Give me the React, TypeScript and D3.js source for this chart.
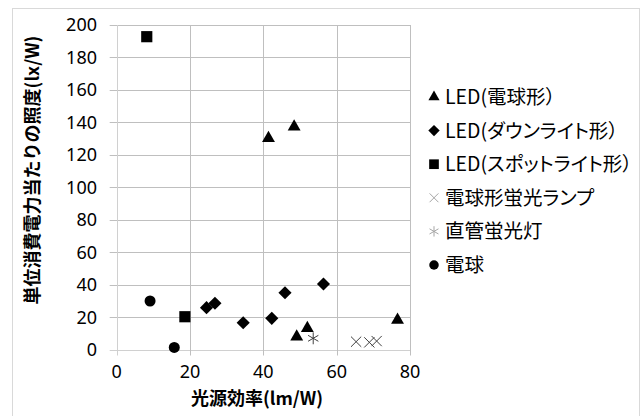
import React from "react";
import * as d3 from "d3";

// Luminous efficacy (lm/W) and illuminance per watt (lx/W) for each lamp type
const ledBulbX = [41.4, 48.4, 49.1, 52.0, 76.6];
const ledBulbY = [130.2, 137.3, 7.9, 13.1, 18.2];

const ledDownX = [24.5, 26.8, 34.5, 42.3, 45.9, 56.4];
const ledDownY = [25.8, 28.5, 16.5, 19.2, 35.0, 40.4];

const ledSpotX = [8.2, 18.6];
const ledSpotY = [192.8, 20.2];

const cflX = [65.3, 68.9, 70.9];
const cflY = [4.8, 4.4, 5.2];

const tubeX = [53.6];
const tubeY = [6.9];

const bulbX = [9.1, 15.7];
const bulbY = [29.9, 1.3];

const seriesNames = [
  "LED(電球形）",
  "LED(ダウンライト形）",
  "LED(スポットライト形）",
  "電球形蛍光ランプ",
  "直管蛍光灯",
  "電球",
];

const xTicks = [0, 20, 40, 60, 80];
const yTicks = [0, 20, 40, 60, 80, 100, 120, 140, 160, 180, 200];

const xTitle = "光源効率(lm/W)";
const yTitle = "単位消費電力当たりの照度(lx/W)";

type Marker = {
  type: d3.SymbolType;
  size: number;
  filled: boolean;
  legendColor: string;
  plotColor: string;
};

const markers: Marker[] = [
  { type: d3.symbolTriangle, size: 72, filled: true, legendColor: "#000", plotColor: "#000" },
  { type: d3.symbolDiamond2, size: 110, filled: true, legendColor: "#000", plotColor: "#000" },
  { type: d3.symbolSquare, size: 125, filled: true, legendColor: "#000", plotColor: "#000" },
  { type: d3.symbolTimes, size: 70, filled: false, legendColor: "#a6a6a6", plotColor: "#404040" },
  { type: d3.symbolAsterisk, size: 100, filled: false, legendColor: "#a6a6a6", plotColor: "#404040" },
  { type: d3.symbolCircle, size: 95, filled: true, legendColor: "#000", plotColor: "#000" },
];

const seriesData: [number[], number[]][] = [
  [ledBulbX, ledBulbY],
  [ledDownX, ledDownY],
  [ledSpotX, ledSpotY],
  [cflX, cflY],
  [tubeX, tubeY],
  [bulbX, bulbY],
];

const W = 644;
const H = 416;
const plotLeft = 116.7;
const plotRight = 410;
const plotTop = 25;
const plotBottom = 349.5;

const numFont = "'Noto Sans', 'Noto Sans CJK JP', sans-serif";
const cjkFont = "'Noto Sans CJK JP', 'Noto Sans', sans-serif";

export default function App() {
  const x = d3.scaleLinear().domain([0, 80]).range([plotLeft, plotRight]);
  const y = d3.scaleLinear().domain([0, 200]).range([plotBottom, plotTop]);

  const symbolPath = (m: Marker, scale = 1) =>
    d3.symbol().type(m.type).size(m.size * scale)() || "";

  const legendX = 434;
  const legendY0 = 97;
  const legendStep = 33.6;

  return (
    <svg
      width={W}
      height={H}
      style={{ position: "absolute", left: 0, top: 0, display: "block" }}
    >
      <rect x={0} y={0} width={W} height={H} fill="#fff" />
      <rect x={12.5} y={8.5} width={627} height={420} fill="#fff" stroke="#d9d9d9" strokeWidth={1} />

      {/* gridlines */}
      {yTicks.map((t) => (
        <line
          key={`gy${t}`}
          x1={plotLeft - 7}
          x2={plotRight}
          y1={Math.round(y(t)) + 0.5}
          y2={Math.round(y(t)) + 0.5}
          stroke={t === 0 ? "#d0d0d0" : "#bfbfbf"}
          strokeWidth={1}
        />
      ))}
      {xTicks.map((t) => (
        <line
          key={`gx${t}`}
          x1={Math.round(x(t)) + 0.5}
          x2={Math.round(x(t)) + 0.5}
          y1={plotTop}
          y2={plotBottom + 6}
          stroke={t === 0 ? "#d0d0d0" : "#bfbfbf"}
          strokeWidth={1}
        />
      ))}

      {/* tick labels */}
      {yTicks.map((t) => (
        <text
          key={`ly${t}`}
          x={97}
          y={y(t)}
          dy="0.36em"
          textAnchor="end"
          fontFamily={numFont}
          fontSize={18}
          fill="#000"
        >
          {t}
        </text>
      ))}
      {xTicks.map((t) => (
        <text
          key={`lx${t}`}
          x={x(t)}
          y={372}
          dy="0.36em"
          textAnchor="middle"
          fontFamily={numFont}
          fontSize={18}
          fill="#000"
        >
          {t}
        </text>
      ))}

      {/* axis titles */}
      <text
        x={257}
        y={399}
        dy="0.36em"
        textAnchor="middle"
        fontFamily={cjkFont}
        fontWeight="bold"
        fontSize={18}
        fill="#000"
      >
        {xTitle}
      </text>
      <text
        transform={`translate(33,170) rotate(-90)`}
        dy="0.36em"
        textAnchor="middle"
        fontFamily={cjkFont}
        fontWeight="bold"
        fontSize={18}
        fill="#000"
      >
        {yTitle}
      </text>

      {/* data points */}
      {seriesData.map(([xs, ys], si) => {
        const m = markers[si];
        const d = symbolPath(m);
        return (
          <g key={`s${si}`}>
            {xs.map((xv, i) => (
              <path
                key={i}
                d={d}
                transform={`translate(${x(xv)},${y(ys[i])})`}
                fill={m.filled ? m.plotColor : "none"}
                stroke={m.plotColor}
                strokeWidth={m.filled ? 0 : 1}
              />
            ))}
          </g>
        );
      })}

      {/* legend */}
      {seriesNames.map((name, i) => {
        const m = markers[i];
        const cy = legendY0 + i * legendStep;
        return (
          <g key={`leg${i}`}>
            <path
              d={symbolPath(m, 0.75)}
              transform={`translate(${legendX},${cy})`}
              fill={m.filled ? m.legendColor : "none"}
              stroke={m.legendColor}
              strokeWidth={m.filled ? 0 : 1}
            />
            <text
              x={445}
              y={cy}
              dy="0.36em"
              fontFamily={cjkFont}
              fontSize={19.5}
              fill="#000"
              style={{ fontFeatureSettings: "'palt'" }}
            >
              {name}
            </text>
          </g>
        );
      })}
    </svg>
  );
}
